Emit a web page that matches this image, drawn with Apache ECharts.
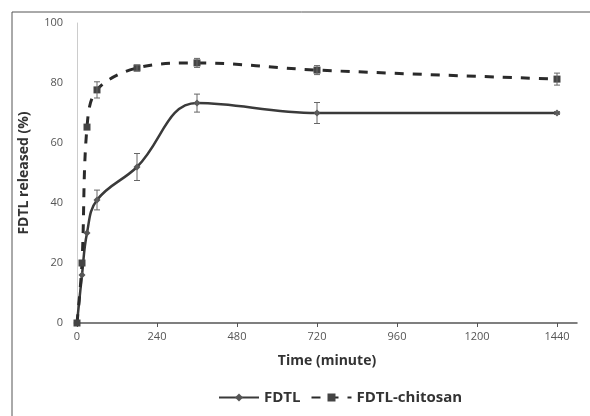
<!DOCTYPE html>
<html><head><meta charset="utf-8">
<script src="https://cdn.jsdelivr.net/npm/echarts@6/dist/echarts.min.js"></script>
<style>html,body{margin:0;padding:0;background:#fff}#c{width:590px;height:416px}</style>
</head><body><div id="c"></div>
<script>
const times = [0, 15, 30, 60, 180, 360, 720, 1440];
const fdtl = [0, 16, 30, 41, 52, 73.3, 70, 70];
const fdtlErr = [0, 0, 0, 3.3, 4.5, 3, 3.5, 0.5];
const chitosan = [0, 20, 65.3, 77.7, 85, 86.7, 84.3, 81.3];
const chitosanErr = [0, 0, 0, 2.7, 1, 1.5, 1.5, 2];
const xTicks = [0, 240, 480, 720, 960, 1200, 1440];
const yTicks = [0, 20, 40, 60, 80, 100];

const pairs = (ys) => times.map((t, i) => [t, ys[i]]);
const errData = (ys, es) => times.map((t, i) => [t, ys[i] - es[i], ys[i] + es[i]]).filter((d, i) => es[i] > 0);

function errRender(params, api) {
  const x = api.value(0);
  const lo = api.coord([x, api.value(1)]);
  const hi = api.coord([x, api.value(2)]);
  const w = 3;
  const st = {stroke: '#666', lineWidth: 1};
  return {type: 'group', children: [
    {type: 'line', shape: {x1: hi[0], y1: hi[1], x2: lo[0], y2: lo[1]}, style: st},
    {type: 'line', shape: {x1: hi[0]-w, y1: hi[1], x2: hi[0]+w, y2: hi[1]}, style: st},
    {type: 'line', shape: {x1: lo[0]-w, y1: lo[1], x2: lo[0]+w, y2: lo[1]}, style: st}
  ]};
}

const chart = echarts.init(document.getElementById('c'));
const font = 'Open Sans, Liberation Sans, sans-serif';
chart.setOption({
  animation: false,
  backgroundColor: '#fff',
  textStyle: {fontFamily: font},
  graphic: [{type: 'rect', shape: {x: 12, y: 12, width: 590, height: 420}, style: {fill: 'none', stroke: '#555', lineWidth: 1}, z: -1}],
  grid: {left: 77, right: 13, top: 23, bottom: 93},
  legend: {
    bottom: 6, left: 213, itemGap: 10, itemWidth: 40, itemHeight: 10,
    textStyle: {fontFamily: font, fontWeight: 'bold', fontSize: 15, color: '#333'},
    data: ['FDTL', 'FDTL-chitosan']
  },
  xAxis: {
    type: 'value', min: 0, max: 1500, interval: 240,
    name: 'Time (minute)', nameLocation: 'middle', nameGap: 31,
    nameTextStyle: {fontFamily: font, fontWeight: 'bold', fontSize: 14, color: '#333'},
    axisLine: {lineStyle: {color: '#555', width: 1.5}},
    axisTick: {show: true, length: 4, lineStyle: {color: '#555'}},
    axisLabel: {color: '#555', fontSize: 11, showMaxLabel: false, formatter: v => xTicks.includes(v) ? String(v) : ''},
    splitLine: {show: false}
  },
  yAxis: {
    type: 'value', min: 0, max: 100, interval: 20,
    name: 'FDTL released (%)', nameLocation: 'middle', nameGap: 46,
    nameTextStyle: {fontFamily: font, fontWeight: 'bold', fontSize: 14, color: '#333'},
    axisLine: {show: true, lineStyle: {color: '#ccc', width: 1}},
    axisTick: {show: false},
    axisLabel: {color: '#555', fontSize: 11, margin: 14, formatter: v => yTicks.includes(v) ? String(v) : ''},
    splitLine: {show: false}
  },
  series: [
    {name: 'FDTL', type: 'line', data: pairs(fdtl), smooth: 0.4,
      symbol: 'diamond', symbolSize: 7,
      lineStyle: {color: '#3a3a3a', width: 2.5}, itemStyle: {color: '#555'}, z: 3},
    {name: 'FDTL-chitosan', type: 'line', data: pairs(chitosan), smooth: 0.35,
      symbol: 'rect', symbolSize: 7,
      lineStyle: {color: '#2a2a2a', width: 3, type: [9, 9]}, itemStyle: {color: '#444'}, z: 3},
    {type: 'custom', data: errData(fdtl, fdtlErr), renderItem: errRender, z: 4, silent: true},
    {type: 'custom', data: errData(chitosan, chitosanErr), renderItem: errRender, z: 4, silent: true}
  ]
});
</script></body></html>
